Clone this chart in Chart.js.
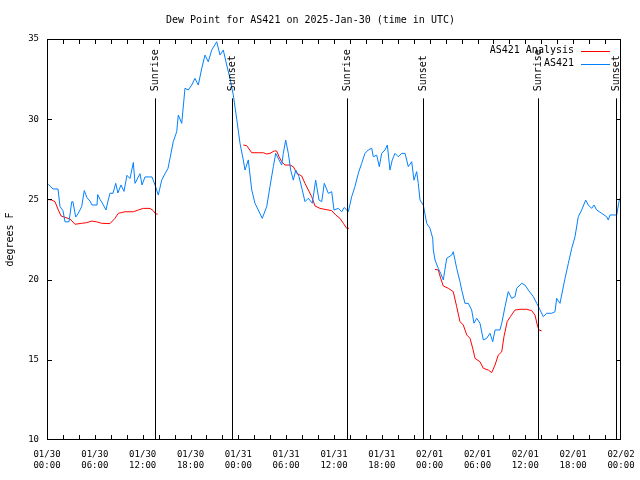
<!DOCTYPE html>
<html><head><meta charset="utf-8">
<script src="https://cdn.jsdelivr.net/npm/chart.js@4.4.1/dist/chart.umd.min.js"></script>
<style>html,body{margin:0;padding:0;background:#fff}#wrap{width:640px;height:480px}</style>
</head><body><div id="wrap"><canvas id="c" width="640" height="480"></canvas></div>
<script>
// Hours since 2025-01-30 00:00 UTC
const blueHours = [0.16,0.75,1.38,1.63,2.0,2.26,2.76,3.1,3.26,3.6,3.89,4.35,4.68,5.02,5.39,5.64,6.27,6.36,6.65,7.02,7.4,7.65,7.9,8.28,8.62,8.9,9.28,9.66,10.03,10.41,10.83,11.04,11.67,11.92,12.29,12.79,13.17,13.55,13.96,14.39,14.8,15.18,15.43,15.84,16.27,16.47,16.9,17.31,17.72,18.15,18.56,18.98,19.41,19.82,20.23,20.66,21.29,21.7,22.11,22.54,22.95,23.37,23.8,24.21,24.62,24.84,25.25,25.68,26.09,26.5,27.0,27.56,27.97,28.39,28.69,29.1,29.44,29.64,29.94,30.27,30.57,30.9,31.2,31.61,32.02,32.36,32.78,33.28,33.7,34.12,34.46,34.78,35.29,35.71,36.0,36.54,36.97,37.29,37.79,38.22,38.63,39.05,39.47,39.89,40.3,40.73,40.93,41.36,41.68,41.98,42.4,42.69,43.02,43.31,43.65,44.07,44.49,44.91,45.32,45.75,46.03,46.37,46.57,46.79,47.2,47.63,48.04,48.38,48.46,48.67,49.08,49.38,49.71,50.14,50.76,50.96,51.39,51.8,52.02,52.43,52.85,53.27,53.56,53.9,54.31,54.73,55.15,55.57,55.91,56.2,56.82,57.04,57.45,57.86,58.29,58.7,58.92,59.54,59.96,60.37,61.0,61.43,61.75,62.25,62.68,63.31,63.72,63.93,64.35,64.68,64.98,65.39,65.82,66.23,66.64,67.07,67.57,67.9,68.32,68.61,68.95,69.58,70.2,70.4,70.62,71.46,71.79,71.94];
const blueValues = [25.94,25.65,25.65,24.55,24.3,23.6,23.6,24.85,24.85,23.9,24.1,24.55,25.55,25.1,24.9,24.65,24.65,25.3,25.0,24.7,24.34,24.9,25.38,25.38,26.0,25.4,25.9,25.5,26.5,26.3,27.3,26.0,26.6,25.9,26.4,26.4,26.4,25.9,25.27,26.2,26.6,26.94,27.56,28.6,29.22,30.26,29.74,31.93,31.82,32.13,32.55,32.13,33.17,34.0,33.58,34.31,34.83,34.0,34.31,33.38,32.55,31.5,30.0,28.5,27.46,26.83,27.46,25.59,24.76,24.34,23.82,24.55,25.8,27.04,27.87,27.46,27.14,27.87,28.7,27.87,26.83,26.2,26.83,26.42,25.59,24.86,25.07,24.76,26.2,24.96,24.86,26.0,25.38,25.48,24.34,24.44,24.23,24.5,24.23,25.17,25.8,26.63,27.25,27.87,28.08,28.19,27.66,27.76,27.04,27.87,28.08,28.39,26.83,27.46,27.87,27.66,27.87,27.87,27.04,27.35,26.2,26.73,26.0,24.96,24.65,23.51,23.2,22.58,21.85,21.22,20.7,20.39,19.98,21.33,21.53,21.74,20.7,19.87,19.35,18.52,18.52,18.1,17.28,17.59,17.28,16.24,16.34,16.65,16.13,16.86,16.86,17.28,18.31,19.25,18.83,18.94,19.46,19.77,19.66,19.35,18.94,18.52,18.21,17.69,17.9,17.9,18.0,18.83,18.52,19.35,20.08,21.0,21.95,22.67,23.92,24.34,24.96,24.65,24.44,24.65,24.34,24.13,23.92,23.72,24.03,24.03,24.96,25.1];
const redHours = [0,0.59,1.0,1.42,1.76,2.26,2.89,3.51,4.35,4.98,5.61,6.23,6.86,7.9,8.53,8.94,9.78,10.83,11.45,12.08,12.92,13.33,13.63,13.89,14.0,24.62,25.05,25.68,26.5,27.13,27.56,27.97,28.51,28.81,29.1,29.44,29.85,30.48,30.9,31.32,31.95,32.36,32.78,33.2,33.62,34.24,34.87,35.71,36.21,36.75,37.17,37.59,37.88,38.0,48.67,49.08,49.38,49.71,50.33,50.96,51.39,51.8,52.22,52.65,53.06,53.4,53.69,54.31,54.73,55.36,55.78,56.2,56.61,57.04,57.32,57.72,58.12,58.7,59.33,60.17,60.8,61.21,61.5,61.71,62.05];
const redValues = [25.0,24.96,24.86,24.34,23.97,23.88,23.78,23.45,23.51,23.55,23.65,23.6,23.51,23.49,23.82,24.13,24.23,24.23,24.34,24.44,24.44,24.3,24.09,24.09,null,28.39,28.35,27.91,27.91,27.91,27.83,27.87,28.02,28.02,27.66,27.35,27.14,27.14,27.04,26.63,26.46,26.0,25.59,25.17,24.59,24.44,24.38,24.3,24.03,23.82,23.51,23.2,23.2,null,20.64,20.6,20.08,19.6,19.46,19.25,18.31,17.38,17.17,16.55,16.34,15.72,15.09,14.88,14.47,14.36,14.2,14.68,15.3,15.5,16.44,17.38,17.69,18.1,18.15,18.15,18.06,17.79,17.17,16.86,16.8];
const sunHours = [13.58,23.24,37.67,47.2,61.63,71.33];
const sunLabels = ['Sunrise','Sunset','Sunrise','Sunset','Sunrise','Sunset'];
const sunLineTop = 31.3;
const xTickDates = ['01/30','01/30','01/30','01/30','01/31','01/31','01/31','01/31','02/01','02/01','02/01','02/01','02/02'];
const xTickTimes = ['00:00','06:00','12:00','18:00','00:00','06:00','12:00','18:00','00:00','06:00','12:00','18:00','00:00'];
const seriesNames = ['AS421 Analysis','AS421'];
const seriesColors = ['#ff0000','#0080ff'];
const titleText = 'Dew Point for AS421 on 2025-Jan-30 (time in UTC)';
const yAxisTitle = 'degrees F';

const MONO = "'DejaVu Sans Mono', monospace";

const framePlugin = {
  id: 'frame',
  afterDraw(chart) {
    const ctx = chart.ctx, a = chart.chartArea;
    const xs = chart.scales.x, ys = chart.scales.y;
    ctx.save();
    ctx.strokeStyle = '#000';
    ctx.lineWidth = 1;
    ctx.strokeRect(Math.round(a.left) + 0.5, Math.round(a.top) + 0.5, Math.round(a.right - a.left) - 1, Math.round(a.bottom - a.top) - 1);
    ctx.beginPath();
    for (let h = 2; h < 72; h += 2) {
      const x = Math.round(xs.getPixelForValue(h)) + 0.5;
      ctx.moveTo(x, a.bottom); ctx.lineTo(x, a.bottom - 5);
      ctx.moveTo(x, a.top); ctx.lineTo(x, a.top + 5);
    }
    for (let v = 15; v < 35; v += 5) {
      const y = Math.round(ys.getPixelForValue(v)) + 0.5;
      ctx.moveTo(a.left, y); ctx.lineTo(a.left + 5, y);
      ctx.moveTo(a.right, y); ctx.lineTo(a.right - 5, y);
    }
    ctx.stroke();
    // sunrise / sunset markers
    ctx.font = '10px ' + MONO;
    ctx.fillStyle = '#000';
    const yTop = ys.getPixelForValue(sunLineTop);
    sunHours.forEach((h, i) => {
      const x = Math.round(xs.getPixelForValue(h)) + 0.5;
      ctx.beginPath();
      ctx.moveTo(x, a.bottom); ctx.lineTo(x, yTop);
      ctx.stroke();
      ctx.save();
      ctx.translate(x, yTop - 7);
      ctx.rotate(-Math.PI / 2);
      ctx.textAlign = 'left';
      ctx.textBaseline = 'middle';
      ctx.fillText(sunLabels[i], 0, 0);
      ctx.restore();
    });
    // legend
    ctx.textAlign = 'right';
    ctx.textBaseline = 'middle';
    seriesNames.forEach((n, i) => {
      const y = a.top + 11.5 + i * 13;
      ctx.fillStyle = '#000';
      ctx.fillText(n, a.right - 47, y);
      ctx.strokeStyle = seriesColors[i];
      ctx.beginPath();
      ctx.moveTo(a.right - 40, Math.round(y) + 0.5);
      ctx.lineTo(a.right - 11, Math.round(y) + 0.5);
      ctx.stroke();
    });
    ctx.restore();
  }
};

new Chart(document.getElementById('c'), {
  type: 'line',
  data: {
    datasets: [
      { label: seriesNames[0], data: redHours.map((h, i) => ({x: h, y: redValues[i]})), borderColor: seriesColors[0], borderWidth: 1, pointRadius: 0, spanGaps: false, tension: 0, order: 1 },
      { label: seriesNames[1], data: blueHours.map((h, i) => ({x: h, y: blueValues[i]})), borderColor: seriesColors[1], borderWidth: 1, pointRadius: 0, tension: 0, order: 0 }
    ]
  },
  options: {
    responsive: false,
    animation: false,
    devicePixelRatio: 1,
    layout: { padding: { left: 0, right: 19, top: 0, bottom: 0 } },
    plugins: {
      legend: { display: false },
      tooltip: { enabled: false },
      title: { display: true, text: titleText, color: '#000', font: { family: MONO, size: 10, weight: 'normal' }, padding: { top: 14, bottom: 13 } }
    },
    scales: {
      x: {
        type: 'linear', min: 0, max: 72,
        grid: { display: false, drawTicks: false },
        border: { display: false },
        ticks: {
          stepSize: 6, autoSkip: false, maxRotation: 0, color: '#000', padding: 9,
          font: { family: MONO, size: 9 },
          callback: (v) => { const i = Math.round(v / 6); return [xTickDates[i], xTickTimes[i]]; }
        },
        afterFit: (s) => { s.height = 40; s.paddingLeft = 0; s.paddingRight = 0; }
      },
      y: {
        min: 10, max: 35,
        grid: { display: false, drawTicks: false },
        border: { display: false },
        ticks: { stepSize: 5, color: '#000', padding: 8, font: { family: MONO, size: 9 } },
        title: { display: true, text: yAxisTitle, color: '#000', font: { family: MONO, size: 10 }, padding: { top: 4, bottom: 4 } },
        afterFit: (s) => { s.width = 47; s.paddingTop = 0; s.paddingBottom = 0; }
      }
    }
  },
  plugins: [framePlugin]
});
</script>
</body></html>
